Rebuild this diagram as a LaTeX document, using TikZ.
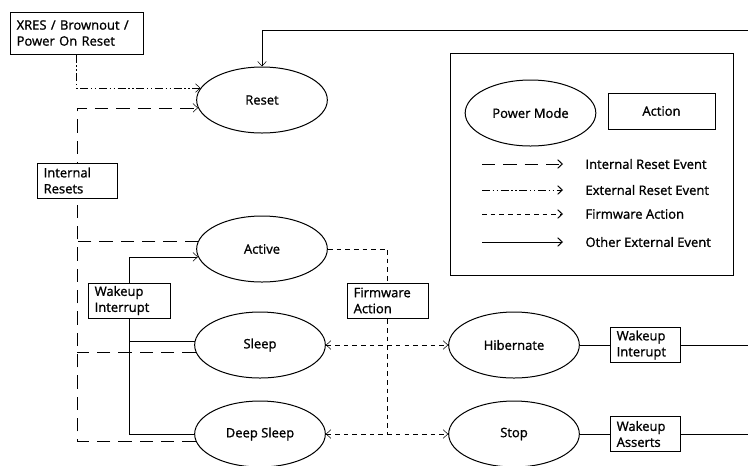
\documentclass[tikz,border=0pt]{standalone}
\usepackage{fontspec}
\setmainfont{Open Sans}[UprightFeatures={FakeBold=1.2}]
\usetikzlibrary{shapes,arrows,arrows.meta,backgrounds}
\tikzset{%
	mode/.style     = {draw, ellipse, fill = white, inner sep = 0pt,
		minimum width = 98pt, minimum height = 49.5pt}, % Power mode
	act/.style      = {draw, rectangle, fill = white, align = left,
		inner xsep = 5pt, inner ysep = 0pt, minimum height = 26.25pt}, % Action
	lbl/.style      = {anchor = west, inner sep = 0pt}, % Legend text
	intreset/.style = {dash pattern = on 10pt off 6pt},
	extreset/.style = {dash pattern = on 6pt off 2pt on 1pt off 2pt on 1pt off 2pt},
	fwline/.style   = {dash pattern = on 3.5pt off 3pt}
}

\begin{document}
\begin{tikzpicture}[x=0.75pt, y=-0.75pt, line width=0.75pt,
	>={Straight Barb[length=3.5pt,width=6.5pt]},
	every node/.style={font=\fontsize{9.75}{12}\selectfont}]
			\useasboundingbox (0,0) rectangle (748,465);
			% power modes
			\node[mode] (reset) at (262,100) {Reset} ;
			\node[mode] (active) at (262,249) {Active} ;
			\node[mode] (sleep) at (260,345) {Sleep} ;
			\node[mode] (deepsleep) at (260,434) {Deep Sleep} ;
			\node[mode] (hibernate) at (514,345) {Hibernate} ;
			\node[mode] (stop) at (514,434) {Stop} ;
			% actions
			\node[act, text width = 89.75pt, minimum height = 31.5pt] (xres) at (76.5,33) {XRES / Brownout /\\Power On Reset} ;
			\node[act, text width = 50pt] (intres) at (77,180.5) {Internal\\Resets} ;
			\node[act, text width = 51.5pt] (wakeint) at (129,300.5) {Wakeup\\Interrupt} ;
			\node[act, text width = 50.75pt] (fwact) at (387.5,300.5) {Firmware\\Action} ;
			\node[act, text width = 42.5pt] (wakehib) at (645,345) {Wakeup\\Interupt} ;
			\node[act, text width = 42.5pt] (wakestop) at (645,434) {Wakeup\\Asserts} ;
			\coordinate (topend) at (748,30);
			\coordinate (hibend) at (748,345);
			\coordinate (stopend) at (748,434);

			% legend
			\node[draw, minimum width = 212.25pt, minimum height = 166.5pt] (legend) at (591.5,164) {} ;
			\node[mode] (lgmode) at (530.5,113) {Power Mode} ;
			\node[act, align = center, minimum width = 80.25pt, minimum height = 27pt] (lgact) at (661.5,111) {Action} ;
			\node[lbl] (lab1) at (585,164) {Internal Reset Event} ;
			\node[lbl] (lab2) at (585,190) {External Reset Event} ;
			\node[lbl] (lab3) at (585,214) {Firmware Action} ;
			\node[lbl] (lab4) at (585,242) {Other External Event} ;
			\coordinate (lg1) at (482,164);
			\coordinate (lg2) at (482,190);
			\coordinate (lg3) at (482,214);
			\coordinate (lg4) at (482,242);
			\draw[intreset,->] (lg1) -- ([xshift=-16.5pt]lab1.west);
			\draw[extreset,->] (lg2) -- ([xshift=-16.5pt]lab2.west);
			\draw[fwline,->] (lg3) -- ([xshift=-16.5pt]lab3.west);
			\draw[->] (lg4) -- ([xshift=-16.5pt]lab4.west);

			\begin{pgfonlayer}{background}
			\draw[->] (topend) -- (reset |- topend) -- (reset.north);
			\draw[extreset,->] (xres.south) |- (reset.169);
			\draw[intreset,->] (deepsleep.186) -- (intres |- deepsleep.186) -- (intres |- reset.187) -- (reset.187);
			\draw[intreset] (active.173) -- (intres |- active.173);
			\draw[intreset] (sleep.186) -- (intres |- sleep.186);
			\draw[->] (deepsleep.180) -- (wakeint |- deepsleep.180) -- (wakeint |- active.187) -- (active.187);
			\draw (sleep.177) -- (wakeint |- sleep.177);
			\draw[fwline] (active.east) -- (fwact |- active.east) -- (fwact |- deepsleep.east);
			\draw[fwline,<->] (sleep.east) -- (hibernate.west);
			\draw[fwline,<->] (deepsleep.east) -- (stop.west);
			\draw (hibernate.east) -- (wakehib);
			\draw (wakehib) -- (hibend);
			\draw (stop.east) -- (wakestop);
			\draw (wakestop) -- (stopend);
			\end{pgfonlayer}
		\end{tikzpicture}
\end{document}
